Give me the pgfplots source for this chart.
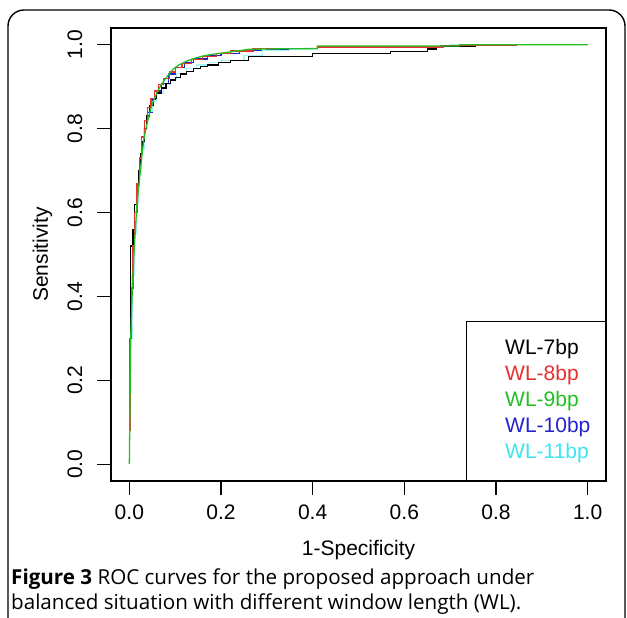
\documentclass[border=0pt]{standalone}
\usepackage{fontspec}
\setmainfont{Liberation Sans}
\newfontfamily\capfont{Open Sans}
\usepackage{pgfplots}
\pgfplotsset{compat=1.18}
\definecolor{rblack}{HTML}{000000}
\definecolor{rred}{HTML}{E8302E}
\definecolor{rgreen}{HTML}{22C022}
\definecolor{rblue}{HTML}{2424CC}
\definecolor{rcyan}{HTML}{3CE6EE}
\begin{document}
\begin{tikzpicture}
\useasboundingbox (0pt,0pt) rectangle (627pt,618pt);
\begin{scope}
\clip (0pt,0pt) rectangle (627pt,618pt);
\draw[line width=1.4pt, rounded corners=16pt] (8pt,-30pt) -- (8pt,608pt) -- (625pt,608pt) -- (625pt,-30pt);
\end{scope}
\begin{axis}[
  at={(111pt,137pt)}, anchor=south west,
  scale only axis, width=495pt, height=453pt,
  xmin=-0.04, xmax=1.04, ymin=-0.04, ymax=1.04,
  axis line style={line width=1.3pt},
  tick style={line width=1.2pt, black},
  tick align=outside, major tick length=14pt,
  xtick={0,0.2,...,1.0}, ytick={0,0.2,...,1.0},
  xtick pos=bottom, ytick pos=left,
  xticklabel={\pgfmathprintnumber[fixed,fixed zerofill,precision=1]{\tick}},
  yticklabel={\pgfmathprintnumber[fixed,fixed zerofill,precision=1]{\tick}},
  /pgf/number format/assume math mode=true,
  tick label style={font=\fontsize{21}{25}\selectfont, inner sep=0pt},
  xticklabel style={anchor=base, yshift=-25pt},
  yticklabel style={rotate=90, anchor=base, yshift=15pt},
  xlabel={1-Specificity}, ylabel={Sensitivity},
  label style={font=\fontsize{21}{25}\selectfont, inner sep=0pt},
  xlabel style={at={(axis description cs:0.5,-0.1634)}, anchor=base},
  ylabel style={at={(axis description cs:-0.1273,0.5)}, anchor=base, rotate=0},
  legend style={at={(rel axis cs:1,0)}, anchor=south east, draw=black, line width=1.2pt, fill=white,
    inner xsep=0pt, inner ysep=17pt, row sep=5pt,
    font=\fontsize{21}{25}\selectfont,
    nodes={inner sep=0pt, text height=16pt, text depth=5pt}},
  legend cell align=left,
  clip=false,
]
\addplot[rblue, line width=1.3pt, forget plot] coordinates {
(0.001,0.06) (0.001,0.3) (0.006,0.3) (0.006,0.45) (0.01,0.45) (0.01,0.55) (0.015,0.55) (0.015,0.62) (0.02,0.62) (0.02,0.69) (0.026,0.69) (0.026,0.75) (0.032,0.75) (0.032,0.8) (0.04,0.8) (0.04,0.84) (0.05,0.84) (0.05,0.87) (0.06,0.87) (0.06,0.89) (0.07,0.89) (0.07,0.908) (0.085,0.908) (0.085,0.93) (0.1,0.93) (0.1,0.945) (0.12,0.945) (0.12,0.958) (0.14,0.958) (0.14,0.966) (0.17,0.966) (0.17,0.974) (0.2,0.974) (0.2,0.98) (0.24,0.98) (0.24,0.986) (0.3,0.986) (0.3,0.99) (0.41,0.99) (0.41,0.995) (0.68,0.995) (0.68,0.998) (0.8,0.998) (0.8,1) (1,1)};
\addplot[rcyan!45!white, line width=1.2pt, forget plot] coordinates {
(0.001,0.05) (0.001,0.3) (0.006,0.3) (0.006,0.45) (0.01,0.45) (0.01,0.55) (0.015,0.55) (0.015,0.62) (0.02,0.62) (0.02,0.69) (0.026,0.69) (0.026,0.75) (0.032,0.75) (0.032,0.8) (0.04,0.8) (0.04,0.84) (0.05,0.84) (0.05,0.865) (0.06,0.865) (0.06,0.885) (0.075,0.885) (0.075,0.905) (0.09,0.905) (0.09,0.918) (0.103,0.918) (0.103,0.932) (0.125,0.932) (0.125,0.943) (0.147,0.943) (0.147,0.952) (0.175,0.952) (0.175,0.958) (0.2,0.958) (0.2,0.963) (0.25,0.963) (0.25,0.975) (0.29,0.975) (0.29,0.986) (0.35,0.986) (0.35,0.99) (0.41,0.99) (0.41,0.995) (0.7,0.995) (0.7,1) (1,1)};
\addplot[rblack, line width=1.3pt, legend image code/.code={\path[draw=none,fill=none] (0pt,0pt) rectangle (39pt,0pt);}] coordinates {
(0,0.17) (0,0.30) (0.002,0.30) (0.002,0.52) (0.008,0.52) (0.008,0.56) (0.012,0.56) (0.012,0.62) (0.016,0.62) (0.016,0.66) (0.02,0.66) (0.02,0.70) (0.024,0.70) (0.024,0.74) (0.028,0.74) (0.028,0.77) (0.033,0.77) (0.033,0.80) (0.038,0.80) (0.038,0.83) (0.044,0.83) (0.044,0.855) (0.052,0.855) (0.052,0.872) (0.06,0.872) (0.06,0.885) (0.07,0.885) (0.07,0.897) (0.08,0.897) (0.08,0.907) (0.09,0.907) (0.09,0.916) (0.1,0.916) (0.1,0.922) (0.112,0.922) (0.112,0.93) (0.125,0.93) (0.125,0.937) (0.14,0.937) (0.14,0.943) (0.155,0.943) (0.155,0.948) (0.17,0.948) (0.17,0.952) (0.195,0.952) (0.195,0.957) (0.22,0.957) (0.22,0.963) (0.26,0.963) (0.26,0.972) (0.40,0.972) (0.40,0.979) (0.57,0.979) (0.57,0.984) (0.65,0.984) (0.65,0.99) (0.67,0.99) (0.67,0.996) (0.755,0.996) (0.755,1) (1,1)};
\addlegendentry{\textcolor{rblack}{WL-7bp}}
\addplot[rred, line width=1.3pt, legend image code/.code={\path[draw=none,fill=none] (0pt,0pt) rectangle (39pt,0pt);}] coordinates {
(0.0015,0.08) (0.0015,0.3) (0.005,0.3) (0.005,0.42) (0.008,0.42) (0.008,0.52) (0.012,0.52) (0.012,0.6) (0.017,0.6) (0.017,0.67) (0.022,0.67) (0.022,0.73) (0.027,0.73) (0.027,0.78) (0.033,0.78) (0.033,0.82) (0.04,0.82) (0.04,0.85) (0.047,0.85) (0.047,0.872) (0.055,0.872) (0.055,0.89) (0.064,0.89) (0.064,0.905) (0.075,0.905) (0.075,0.92) (0.087,0.92) (0.087,0.935) (0.1,0.935) (0.1,0.946) (0.115,0.946) (0.115,0.956) (0.135,0.956) (0.135,0.965) (0.16,0.965) (0.16,0.972) (0.19,0.972) (0.19,0.979) (0.22,0.979) (0.22,0.985) (0.27,0.985) (0.27,0.991) (0.41,0.991) (0.41,0.995) (0.685,0.995) (0.685,0.998) (0.845,0.998) (0.845,1) (1,1)};
\addlegendentry{\textcolor{rred}{WL-8bp}}
\addplot[rgreen, line width=1.3pt, legend image code/.code={\path[draw=none,fill=none] (0pt,0pt) rectangle (39pt,0pt);}] coordinates {
(0,0) (0.003,0.3) (0.006,0.4) (0.01,0.5) (0.016,0.61) (0.024,0.7) (0.031,0.77) (0.038,0.81) (0.045,0.84) (0.052,0.865) (0.06,0.885) (0.068,0.902) (0.078,0.918) (0.088,0.932) (0.098,0.944) (0.11,0.953) (0.125,0.961) (0.14,0.967) (0.16,0.973) (0.18,0.977) (0.2,0.98) (0.22,0.983) (0.24,0.986) (0.26,0.989) (0.3,0.99) (0.41,0.991) (0.41,0.997) (0.72,0.997) (0.72,1) (1,1)};
\addlegendentry{\textcolor{rgreen}{WL-9bp}}
\addlegendimage{legend image code/.code={\path[draw=none,fill=none] (0pt,0pt) rectangle (39pt,0pt);}}
\addlegendentry{\textcolor{rblue}{WL-10bp}\kern15pt\null}
\addlegendimage{legend image code/.code={\path[draw=none,fill=none] (0pt,0pt) rectangle (39pt,0pt);}}
\addlegendentry{\textcolor{rcyan}{WL-11bp}\kern15pt\null}
\end{axis}
\node[anchor=base west, inner sep=0pt, font=\capfont\fontsize{20.6}{25}\selectfont] at (11pt,33pt) {\textbf{Figure 3} ROC curves for the proposed approach under};
\node[anchor=base west, inner sep=0pt, font=\capfont\fontsize{20.6}{25}\selectfont] at (11pt,8pt) {balanced situation with different window length (WL).};
\end{tikzpicture}
\end{document}
